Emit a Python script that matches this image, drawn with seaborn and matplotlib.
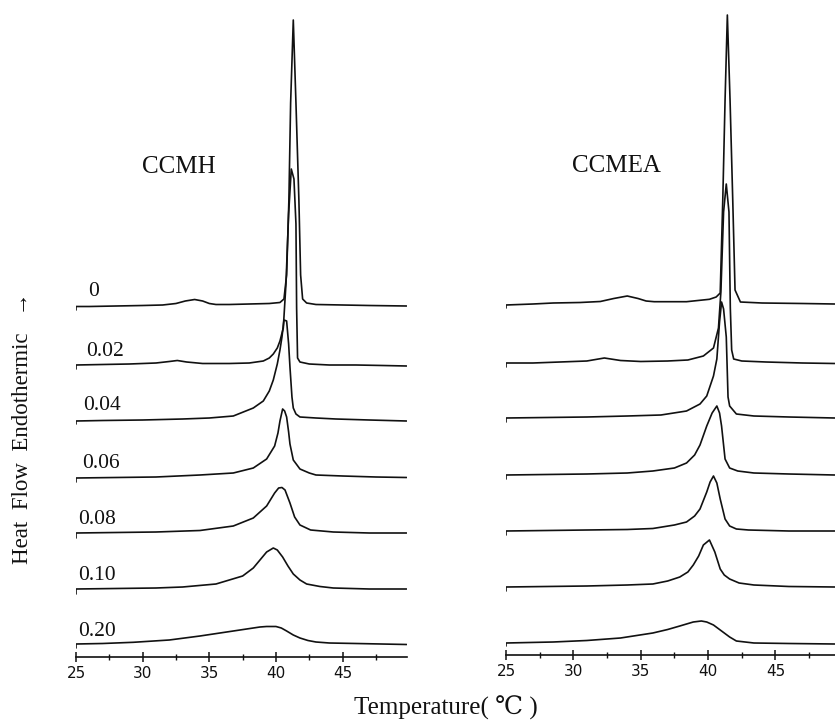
import matplotlib.pyplot as plt
import matplotlib.ticker as tik
import seaborn as sns
import numpy as np
import pandas as pd

#### data
# heat flow signal above each baseline (arbitrary units ~ px), per concentration
conc_labels = ["0", "0.02", "0.04", "0.06", "0.08", "0.10", "0.20"]
offsets = [352, 293, 238, 180, 124, 68, 13]

# ---- CCMH
h0_t = [25, 25, 26, 28, 30, 31.5, 32.5, 33.2, 33.9, 34.5, 35.0, 35.5, 36.5, 38, 39.5, 40.3, 40.6, 40.8,
        40.97, 41.1, 41.3, 41.5, 41.72, 41.85, 42.0, 42.3, 43, 45, 47, 49.8]
h0_s = [-5, -1.5, -1.5, -1, -0.5, 0, 1.5, 4, 5.5, 4, 1.5, 0.5, 0.5, 1, 1.5, 2.5, 6, 30,
        105, 202, 285, 202, 105, 30, 6, 2, 0.5, 0, -0.5, -1]
h1_t = [25, 25, 27, 29, 31, 32, 32.6, 33.3, 34.5, 36.5, 38, 39.05, 39.5, 39.8, 40.1, 40.3, 40.55, 40.75,
        40.95, 41.15, 41.35, 41.5, 41.55, 41.62, 41.8, 42.5, 44, 46, 48, 49.8]
h1_s = [-5, -1, -0.5, 0, 1, 2.5, 3.5, 2, 0.5, 0.5, 1, 3, 6, 10, 16, 23, 36, 80,
        150, 195, 185, 140, 56, 6, 2, 0, -1, -1, -1.5, -2]
h2_t = [25, 25, 27, 30, 33, 35, 36.8, 38.3, 39.05, 39.5, 39.8, 40.1, 40.3, 40.45, 40.6, 40.8, 40.95,
        41.05, 41.2, 41.3, 41.5, 41.8, 43, 44.5, 47, 49.8]
h2_s = [-5, -2, -1.5, -1, 0, 1, 3, 11, 18, 28, 39, 55, 69, 82, 99, 98, 75,
        52, 22, 11, 5, 2, 1, 0, -1, -2]
h3_t = [25, 25, 28, 31, 34.3, 36.8, 38.3, 39.3, 39.9, 40.15, 40.3, 40.5, 40.65, 40.8, 40.95, 41.05,
        41.3, 41.8, 42.5, 43.0, 45, 47.5, 49.8]
h3_s = [-5, -1, -0.5, 0, 2, 4, 9, 18, 31, 44, 56, 68, 66, 60, 45, 33,
        17, 8, 4, 2, 1, 0, -0.5]
h4_t = [25, 25, 28, 31, 34.3, 36.8, 38.3, 39.3, 39.9, 40.2, 40.45, 40.68, 41.05, 41.4, 41.8, 42.6,
        44.3, 47, 49.8]
h4_s = [-5, 0, 0.5, 1, 2.5, 7, 15, 27, 40, 45, 45.5, 43, 30, 16, 8, 3,
        1, 0, 0]
h5_t = [25, 25, 28, 31, 33, 35.5, 37.5, 38.3, 38.8, 39.3, 39.8, 40.1, 40.5, 40.9, 41.3, 41.8, 42.3,
        43.3, 44.3, 47, 49.8]
h5_s = [-5, 0, 0.5, 1, 2, 5, 13, 21, 29, 37, 41, 39, 32, 23, 15, 9, 5,
        2.5, 1, 0, 0]
h6_t = [25, 25, 27, 29.3, 32, 34.3, 36.8, 38.8, 39.3, 40.0, 40.4, 40.8, 41.3, 41.8, 42.4, 43.0, 44,
        46, 49.8]
h6_s = [-4, 0, 0.5, 1.7, 4, 8, 13, 17, 17.5, 17.5, 16, 13, 9, 6, 3.5, 2, 1,
        0.5, -0.5]

# ---- CCMEA
e0_t = [25, 25, 27, 28.5, 30.5, 32, 33, 34, 34.8, 35.4, 36, 38.4, 40.1, 40.6, 40.9, 41.09, 41.26,
        41.43, 41.63, 41.83, 42.0, 42.4, 44, 47, 49.4]
e0_s = [-5, -2, -1, 0, 0.5, 1.5, 4.5, 7, 4.5, 2, 1.3, 1.3, 3.7, 6, 10, 103, 203,
        288, 203, 103, 13, 1, 0, -0.5, -1]
e1_t = [25, 25, 27, 29, 31, 32.3, 33.5, 35, 37, 38.5, 39.65, 40.4, 40.77, 40.95, 41.15, 41.35, 41.55,
        41.65, 41.75, 41.9, 42.5, 44.3, 47, 49.4]
e1_s = [-5, -1, -1, 0, 1, 4, 1.5, 0.5, 1, 2, 6, 14, 34, 70, 150, 178, 150,
        54, 12, 3, 1, 0, -1, -1.5]
e2_t = [25, 25, 28, 31, 34, 36.5, 38.4, 39.4, 39.9, 40.4, 40.65, 40.85, 41.0, 41.15, 41.35, 41.48,
        41.6, 42.1, 43.4, 46, 49.4]
e2_s = [-5, -1, -0.5, 0, 1, 2, 6, 13, 21, 41, 58, 95, 115, 108, 80, 20,
        11, 3, 1, 0, -1]
e3_t = [25, 25, 28, 31, 34, 35.9, 37.5, 38.4, 39.0, 39.4, 39.9, 40.3, 40.65, 40.85, 41.0, 41.26,
        41.6, 42.2, 43.4, 46, 49.4]
e3_s = [-4, 0, 0.5, 1, 2, 4, 7, 12, 20, 30, 49, 62, 69, 62, 49, 16,
        7, 4, 2, 1, 0]
e4_t = [25, 25, 28, 31, 34, 35.9, 37.5, 38.4, 39.0, 39.4, 39.9, 40.15, 40.4, 40.65, 40.9, 41.26,
        41.6, 42.1, 43, 46, 49.4]
e4_s = [-4, 0, 0.5, 1, 1.5, 2.5, 6, 9, 15, 22, 39, 49, 55, 48, 32, 12,
        5, 2, 1, 0, 0]
e5_t = [25, 25, 28, 31, 34, 35.9, 37.0, 37.9, 38.5, 38.9, 39.3, 39.65, 40.1, 40.5, 40.9, 41.2,
        41.6, 42.3, 43.4, 46, 49.4]
e5_s = [-4, 0, 0.5, 1, 2, 3, 6, 10, 15, 22, 31, 42, 47, 35, 18, 12,
        8, 4, 2, 0.5, 0]
e6_t = [25, 25, 28.5, 31, 33.5, 35.9, 37.0, 37.9, 38.9, 39.5, 39.9, 40.4, 40.8, 41.1, 41.6, 42.1,
        43.4, 46, 49.4]
e6_s = [-4, -1, 0, 1.5, 4, 9, 12.5, 16, 20, 21, 20, 17, 13, 10, 5, 1,
        -1, -1.5, -2]

ccmh_t = [h0_t, h1_t, h2_t, h3_t, h4_t, h5_t, h6_t]
ccmh_s = [h0_s, h1_s, h2_s, h3_s, h4_s, h5_s, h6_s]
ccmea_t = [e0_t, e1_t, e2_t, e3_t, e4_t, e5_t, e6_t]
ccmea_s = [e0_s, e1_s, e2_s, e3_s, e4_s, e5_s, e6_s]


def stack(ts, ss):
    frames = []
    for lab, off, t, s in zip(conc_labels, offsets, ts, ss):
        frames.append(pd.DataFrame({"conc": lab, "T": t, "y": np.array(s, dtype=float) + off}))
    return pd.concat(frames, ignore_index=True)


df_h = stack(ccmh_t, ccmh_s)
df_e = stack(ccmea_t, ccmea_s)

sns.set_style("white")
serif = ["Liberation Serif", "DejaVu Serif", "DejaVu Sans"]

W, H = 835, 720
fig = plt.figure(figsize=(W / 100, H / 100), dpi=100)
ax1 = fig.add_axes([76 / W, (H - 657) / H, 331 / W, 657 / H])
ax2 = fig.add_axes([506 / W, (H - 655) / H, 329 / W, 655 / H])

for ax, df, xmax, ymax in [(ax1, df_h, 49.83, 657), (ax2, df_e, 49.42, 655)]:
    sns.lineplot(data=df, x="T", y="y", units="conc", estimator=None, sort=False,
                 color="#111111", lw=1.2, ax=ax, legend=False)
    ax.set_xlim(25, xmax)
    ax.set_ylim(0, ymax)
    ax.set_xlabel("")
    ax.set_ylabel("")
    ax.set_yticks([])
    for side in ["top", "right", "left"]:
        ax.spines[side].set_visible(False)
    ax.spines["bottom"].set_color("#111111")
    ax.spines["bottom"].set_linewidth(1.2)
    ax.xaxis.set_major_locator(tik.MultipleLocator(5))
    ax.xaxis.set_minor_locator(tik.MultipleLocator(2.5))
    ax.tick_params(axis="x", which="both", bottom=True)
    ax.tick_params(axis="x", which="major", direction="inout", length=7, width=1.1,
                   colors="#111111", labelsize=11, pad=3)
    ax.tick_params(axis="x", which="minor", direction="inout", length=5, width=1.0,
                   colors="#111111")
    ax.patch.set_alpha(0)

# curve labels (left panel only)
label_x = [25.9, 25.75, 25.5, 25.45, 25.15, 25.15, 25.15]
for lab, off, lx in zip(conc_labels, offsets, label_x):
    ax1.text(lx, off + 8.5, lab, ha="left", va="baseline", fontsize=15.5, family=serif,
             color="#111111")

ax1.text(32.7, 484, "CCMH", ha="center", va="baseline", fontsize=18, family=serif, color="#111111")
ax2.text(33.2, 483, "CCMEA", ha="center", va="baseline", fontsize=18, family=serif, color="#111111")

fig.text(23 / W, 1 - 428 / H, "Heat  Flow  Endothermic   \u2192", rotation=90, ha="center",
         va="center", fontsize=16.5, family=serif, color="#111111")
fig.text(446 / W, 1 - 708 / H, "Temperature( \u2103 )", ha="center", va="center",
         fontsize=18, family=serif, color="#111111")

plt.savefig("out.png", dpi=100)
